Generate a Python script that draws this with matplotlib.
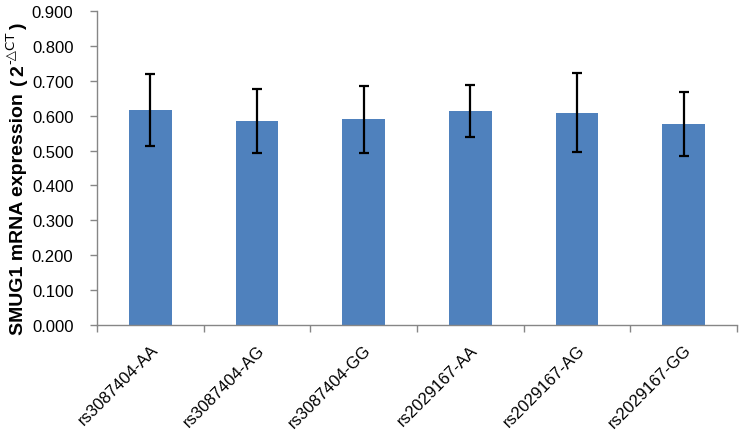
import matplotlib
matplotlib.use("Agg")
import matplotlib.pyplot as plt
import numpy as np

categories = ["rs3087404-AA", "rs3087404-AG", "rs3087404-GG",
              "rs2029167-AA", "rs2029167-AG", "rs2029167-GG"]
means = [0.617, 0.584, 0.590, 0.614, 0.608, 0.577]
errors = [0.103, 0.092, 0.096, 0.075, 0.113, 0.092]
yticks = [0.0, 0.1, 0.2, 0.3, 0.4, 0.5, 0.6, 0.7, 0.8, 0.9]

plt.rcParams['font.family'] = ['Liberation Sans', 'DejaVu Sans']

W, H = 743, 435
fig = plt.figure(figsize=(W / 100, H / 100), dpi=100)
ax = fig.add_axes([97 / W, (H - 326) / H, 640 / W, 314 / H])

x = np.arange(len(categories))
ax.bar(x, means, width=0.4, color="#4F81BD", zorder=2)
ax.errorbar(x, means, yerr=errors, fmt="none", ecolor="black",
            elinewidth=1.6, capsize=3.5, capthick=1.6, zorder=3)

ax.set_xlim(-0.5, len(categories) - 0.5)
ax.set_ylim(0, 0.9)
ax.set_yticks(yticks)
ax.set_yticklabels([f"{v:.3f}" for v in yticks], fontsize=12)

ax.set_xticks(np.arange(len(categories) + 1) - 0.5)
ax.set_xticklabels([])
ax.set_xticks(x, minor=True)
ax.set_xticklabels(categories, minor=True, rotation=45, ha="right",
                   va="top", rotation_mode="anchor", fontsize=12)
ax.tick_params(axis="x", which="minor", length=0, pad=12)
ax.tick_params(axis="x", which="major", length=5, color="#868686", width=1)
ax.tick_params(axis="y", length=5, color="#868686", width=1, pad=12)

for s in ["top", "right"]:
    ax.spines[s].set_visible(False)
for s in ["left", "bottom"]:
    ax.spines[s].set_color("#868686")
    ax.spines[s].set_linewidth(1)

# y label assembled piecewise (superscript), baseline-anchored, rotated 90
fig.canvas.draw()
r = fig.canvas.get_renderer()
xb = 23 / W      # baseline of main text
xs = 14 / W      # baseline of superscript
kw = dict(rotation=90, ha="left", va="baseline", rotation_mode="anchor")
t1 = fig.text(xb, (H - 335) / H, "SMUG1 mRNA expression", fontsize=14,
              fontweight="bold", **kw)
y = t1.get_window_extent(r).y1 + 8
t2 = fig.text(xb, y / H, "(", fontsize=14, fontweight="bold", **kw)
y = t2.get_window_extent(r).y1 + 3
t3 = fig.text(xb, y / H, "2", fontsize=14, fontweight="bold", **kw)
y = t3.get_window_extent(r).y1 + 1
t4 = fig.text(xs, y / H, "-△CT", fontsize=9.5,
              family=["DejaVu Sans", "Noto Sans CJK SC"], **kw)
y = t4.get_window_extent(r).y1 + 3
t5 = fig.text(xb, y / H, ")", fontsize=14, fontweight="bold", **kw)

fig.savefig("out.png", dpi=100)
